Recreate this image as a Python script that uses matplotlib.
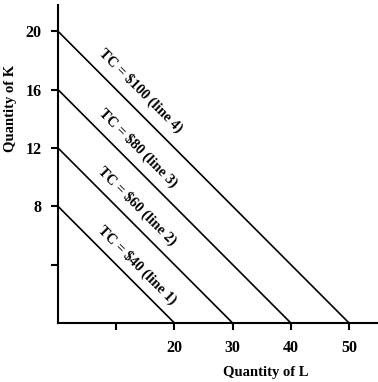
import matplotlib
matplotlib.use("Agg")
import matplotlib.pyplot as plt

# Data
total_costs = [40, 60, 80, 100]
line_names = ["line 1", "line 2", "line 3", "line 4"]
l_intercepts = [20, 30, 40, 50]
k_intercepts = [8, 12, 16, 20]
label_x = [13.6, 13.6, 13.7, 14.2]
label_y = [4.0, 8.0, 12.0, 15.9]
x_ticks = [10, 20, 30, 40, 50]
x_tick_labels = ["", "20", "30", "40", "50"]
y_ticks = [4, 8, 12, 16, 20]
y_tick_labels = ["", "8", "12", "16", "20"]

plt.rcParams['font.family'] = ['Liberation Serif', 'DejaVu Serif']
plt.rcParams['font.weight'] = 'bold'

fig = plt.figure(figsize=(3.78, 3.82), dpi=100)
ax = fig.add_axes([58/378, 1 - 323/382, 319/378, 318/382])

for li, ki in zip(l_intercepts, k_intercepts):
    ax.plot([0, li], [ki, 0], color='black', lw=1.2, solid_capstyle='butt')

for tc, name, lx, ly in zip(total_costs, line_names, label_x, label_y):
    ax.text(lx, ly, f"TC = ${tc} ({name})", rotation=-45, rotation_mode='anchor',
            ha='center', va='center', fontsize=10.5, fontweight='bold')

ax.set_xlim(0, 54.8)
ax.set_ylim(0, 21.8)
ax.set_xticks(x_ticks)
ax.set_xticklabels(x_tick_labels)
ax.set_yticks(y_ticks)
ax.set_yticklabels(y_tick_labels)
for s in ['top', 'right']:
    ax.spines[s].set_visible(False)
for s in ['left', 'bottom']:
    ax.spines[s].set_linewidth(1.5)
ax.tick_params(direction='out', length=5, width=1.5, labelsize=11.5, pad=7)
for t in ax.get_xticklabels() + ax.get_yticklabels():
    t.set_fontweight('bold')

ax.set_xlabel("Quantity of L", fontsize=10.5, fontweight='bold')
ax.set_ylabel("Quantity of K", fontsize=10.5, fontweight='bold')
ax.xaxis.set_label_coords(0.65, -0.155)
ax.yaxis.set_label_coords(-0.15, 0.676)
ax.xaxis.label.set_va('center')
ax.yaxis.label.set_va('center')

fig.savefig("out.png", dpi=100)
